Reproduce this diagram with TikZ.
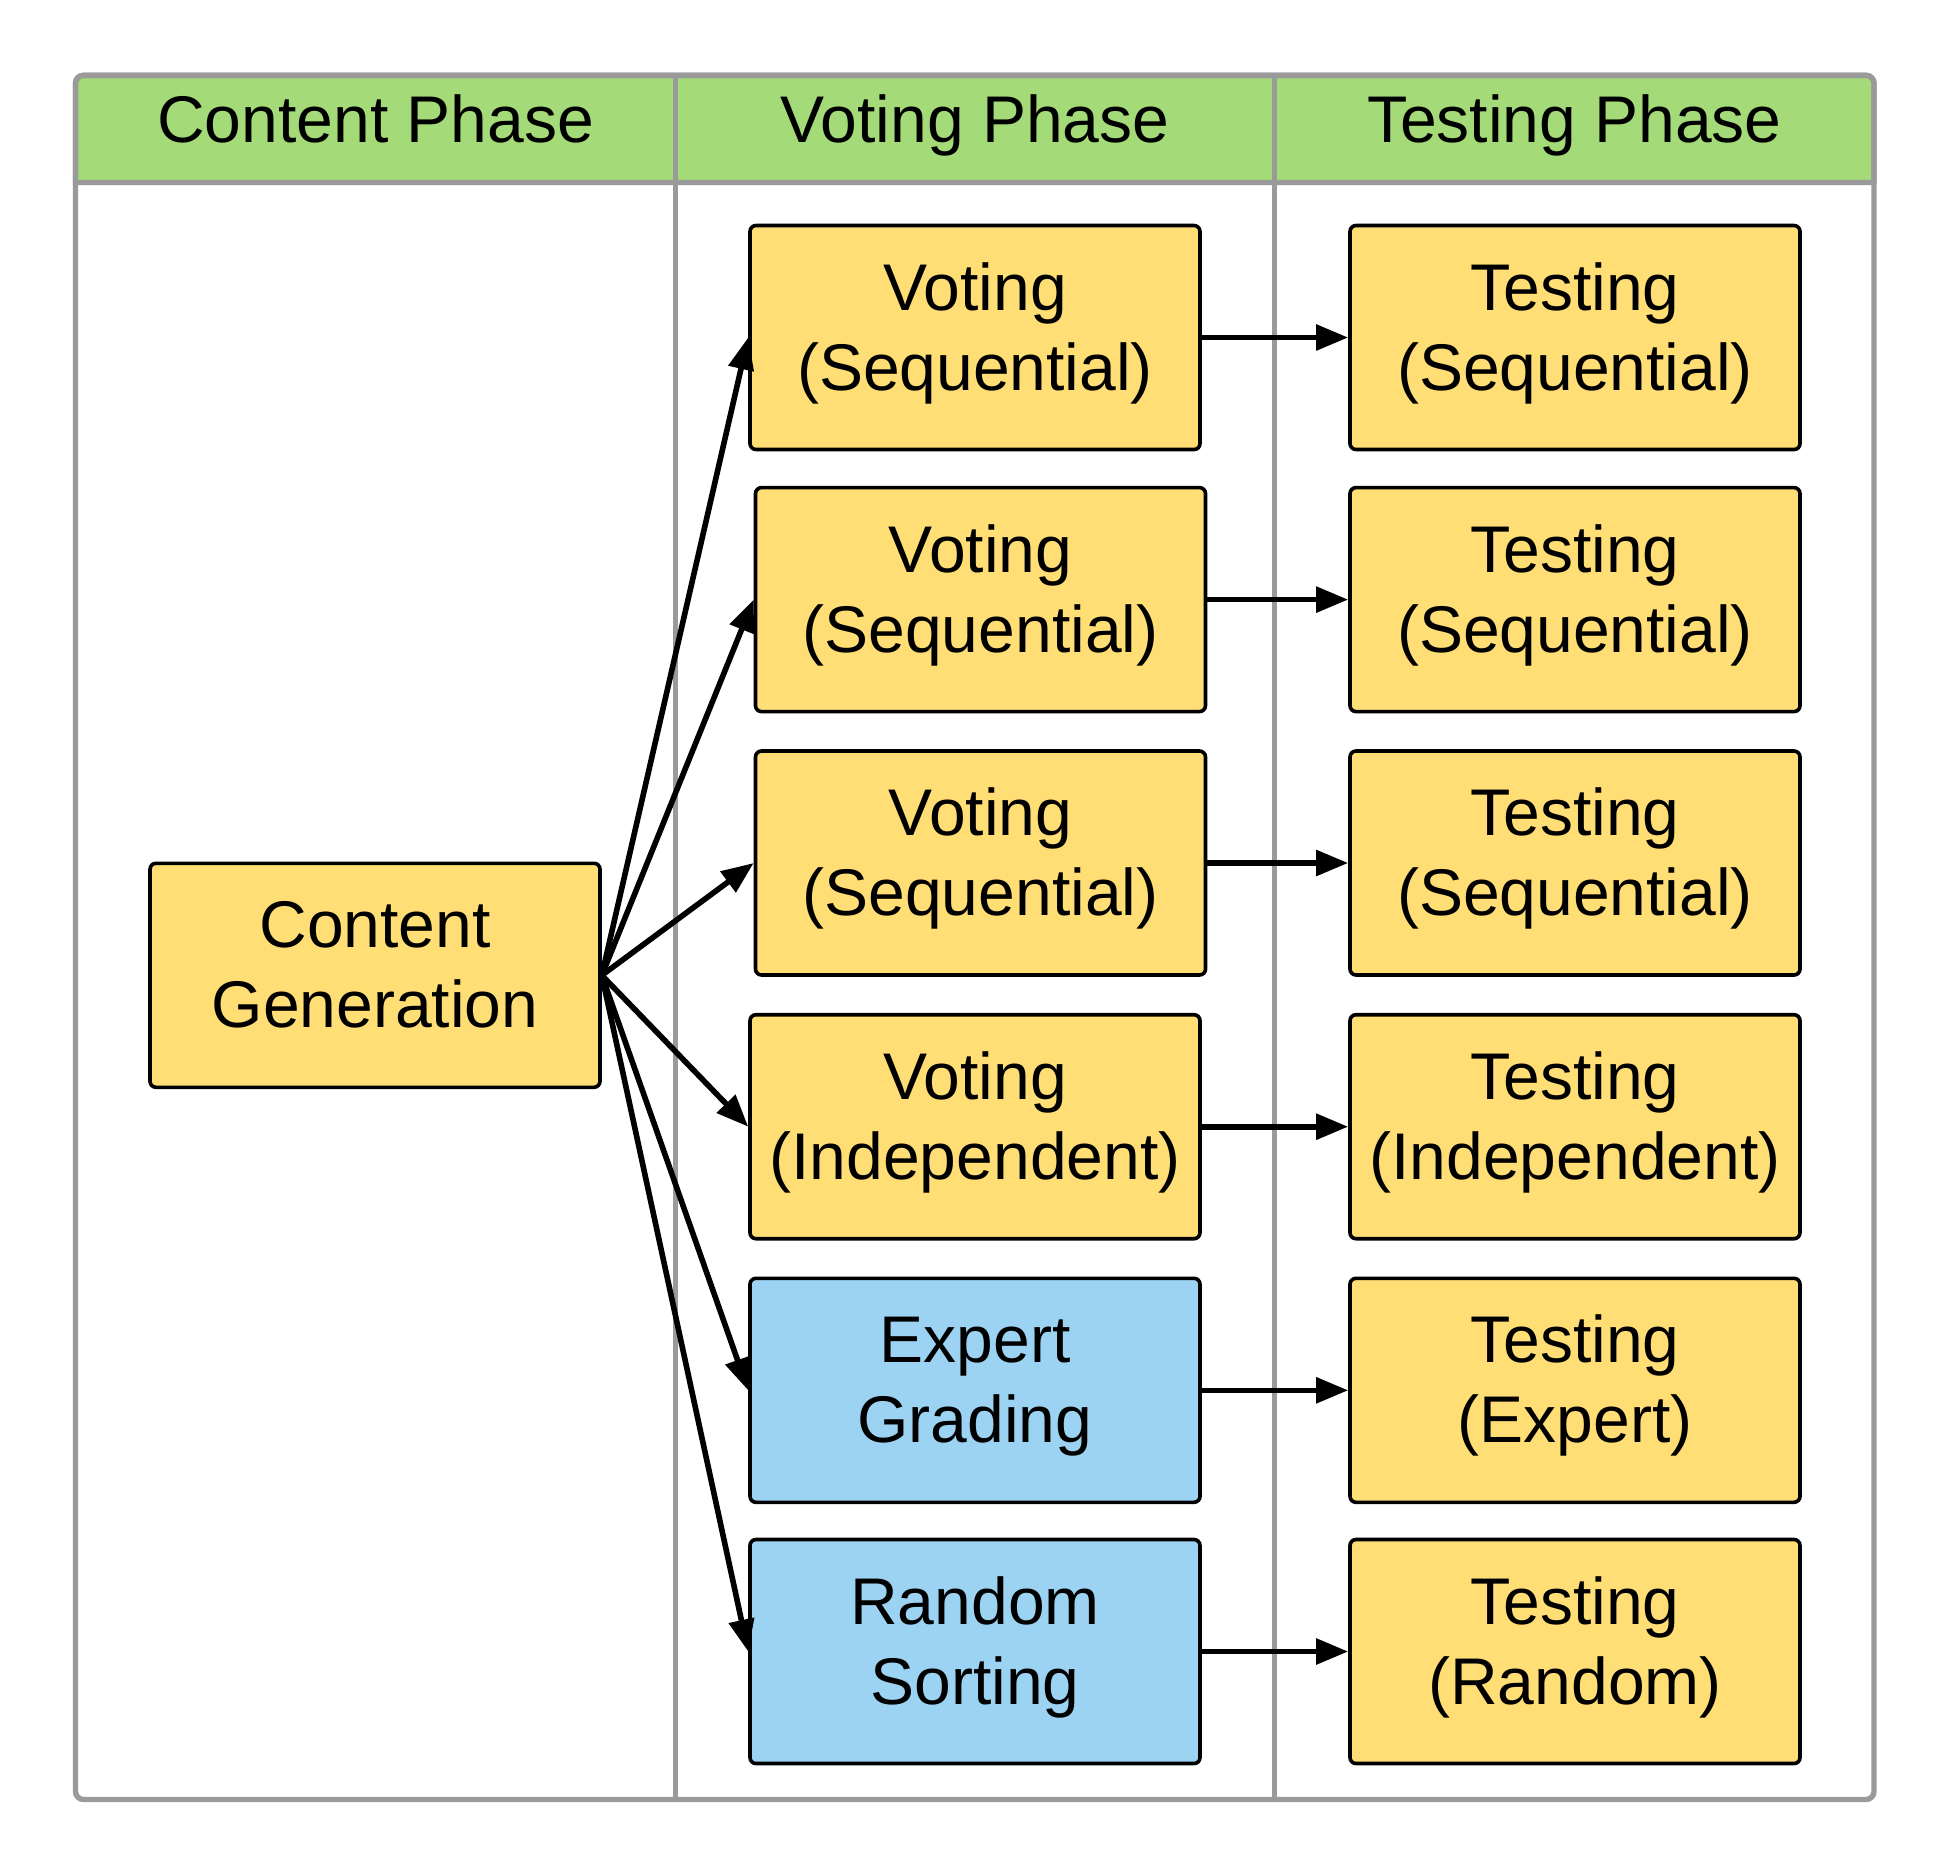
\documentclass[tikz,border=0pt]{standalone}
\usepackage{fontspec}
\setmainfont{Liberation Sans}
\usetikzlibrary{arrows.meta}
\definecolor{boxyellow}{HTML}{FFDE75}
\definecolor{boxblue}{HTML}{9DD3F2}
\definecolor{hdrgreen}{HTML}{A4DA78}
\definecolor{framegray}{HTML}{9A9A9A}
\newcommand\twol[2]{\raisebox{1.75pt}[\height][\depth]{\begin{tabular}{@{}c@{}}#1\\#2\end{tabular}}}
\begin{document}
\begin{tikzpicture}[x=0.5pt,y=-0.5pt,
  box/.style={draw=black, line width=1.8pt, rounded corners=3pt,
    minimum width=225pt, minimum height=112pt, inner sep=0pt,
    font=\fontsize{33}{40}\selectfont},
  ybox/.style={box, fill=boxyellow},
  bbox/.style={box, fill=boxblue},
  hdr/.style={anchor=base, inner sep=0pt, font=\fontsize{33}{40}\selectfont},
  frame/.style={draw=framegray, line width=2.7pt},
  arr/.style={draw=black, line width=2.8pt, -{Triangle[length=16pt,width=12.5pt]}}]
\useasboundingbox (0,0) rectangle (1950,1875);
% header band
\filldraw[fill=hdrgreen, frame] (75.5,182.5) {[rounded corners=4pt] -- (75.5,75.3) -- (1874,75.3)} -- (1874,182.5) -- cycle;
% outer frame and dividers
\draw[frame, rounded corners=4pt] (75.5,75.3) rectangle (1874,1799.5);
\draw[frame] (675.3,75.3) -- (675.3,1799.5);
\draw[frame] (1274.7,75.3) -- (1274.7,1799.5);
% headers
\node[hdr] (h1) at (375.6,142.3) {Content Phase};
\node[hdr] (h2) at (975,142.3) {Voting Phase};
\node[hdr] (h3) at (1574.4,142.3) {Testing Phase};
% content
\node[ybox] (cg) at (375,975.3) {\twol{Content}{Generation}};
% voting
\node[ybox] (v1) at (975,337.5) {\twol{Voting}{(Sequential)}};
\node[ybox] (v2) at (980.5,599.6) {\twol{Voting}{(Sequential)}};
\node[ybox] (v3) at (980.5,863) {\twol{Voting}{(Sequential)}};
\node[ybox] (v4) at (975,1126.7) {\twol{Voting}{(Independent)}};
\node[bbox] (v5) at (975,1390.3) {\twol{Expert}{Grading}};
\node[bbox] (v6) at (975,1651.5) {\twol{Random}{Sorting}};
% testing
\node[ybox] (t1) at (1575,337.5) {\twol{Testing}{(Sequential)}};
\node[ybox] (t2) at (1575,599.6) {\twol{Testing}{(Sequential)}};
\node[ybox] (t3) at (1575,863) {\twol{Testing}{(Sequential)}};
\node[ybox] (t4) at (1575,1126.7) {\twol{Testing}{(Independent)}};
\node[ybox] (t5) at (1575,1390.3) {\twol{Testing}{(Expert)}};
\node[ybox] (t6) at (1575,1651.5) {\twol{Testing}{(Random)}};
% connectors
\foreach \i in {1,...,6} {
  \draw[arr] (cg.east) -- (v\i.west);
  \draw[arr] (v\i.east) -- (t\i.west);
}
\end{tikzpicture}
\end{document}
